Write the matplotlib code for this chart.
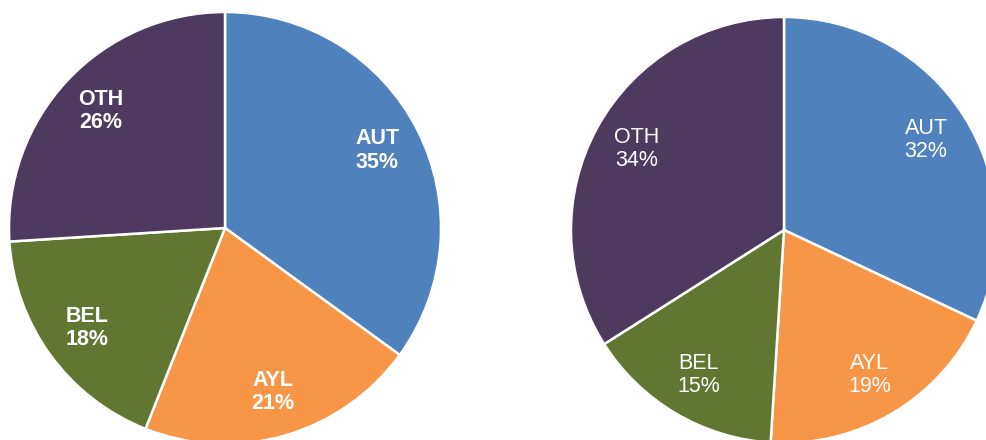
import matplotlib.pyplot as plt

# Share of each category, two pies side by side
categories = ['AUT', 'AYL', 'BEL', 'OTH']
left_values = [35, 21, 18, 26]
right_values = [32, 19, 15, 34]
colors = ['#4F81BD', '#F79646', '#617731', '#4E3A5F']

fig = plt.figure(figsize=(9.86, 4.4), dpi=100)
ax = fig.add_axes([0, 0, 1, 1])


def draw_pie(values, center, radius, weight):
    labels = [f'{c}\n{v}%' for c, v in zip(categories, values)]
    wedges, texts = ax.pie(values, colors=colors, labels=labels, startangle=90,
                           counterclock=False, center=center, radius=radius,
                           labeldistance=0.79,
                           wedgeprops=dict(edgecolor='white', linewidth=1.8),
                           textprops=dict(color='white', fontsize=15.5,
                                          fontweight=weight,
                                          family='Liberation Sans'))
    for t in texts:
        t.set_ha('center')
        t.set_va('center')
        t.set_linespacing(1.15)


draw_pie(left_values, (225, 212), 216, 'bold')
draw_pie(right_values, (784, 210), 213, 'normal')

ax.set_xlim(0, 986)
ax.set_ylim(0, 440)
ax.set_aspect('equal')
ax.axis('off')

fig.savefig('out.png', dpi=100)
